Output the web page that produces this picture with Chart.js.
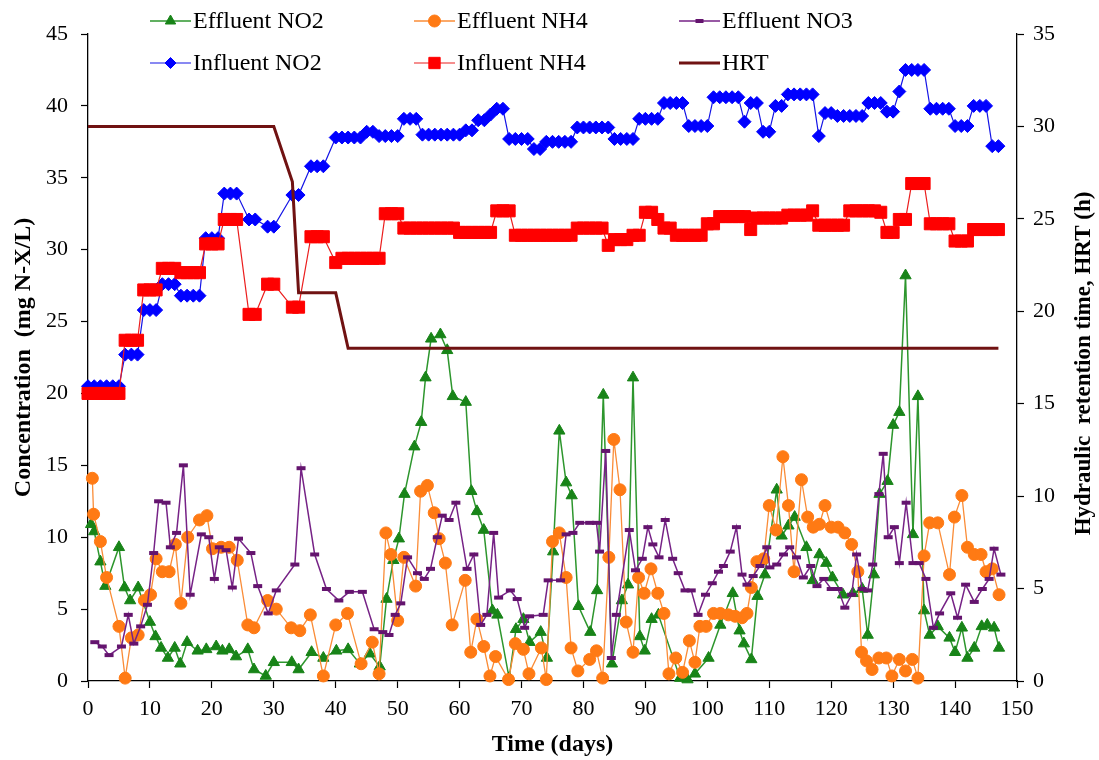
<!DOCTYPE html>
<html>
<head>
<meta charset="utf-8">
<title>Nitrogen species and HRT over time</title>
<script src="https://cdn.jsdelivr.net/npm/chart.js@4.4.1/dist/chart.umd.min.js"></script>
<style>
  html, body { margin: 0; padding: 0; background: #ffffff; }
  #wrap { width: 1099px; height: 760px; }
</style>
</head>
<body>
<div id="wrap"><canvas id="chart" width="1099" height="760"></canvas></div>
<script>
// ---- Effluent samples (day, mg N/L) ----
const effNO2Days = [0.5,1.0,2.0,2.8,5.0,5.9,6.8,8.1,10.0,10.9,11.8,12.9,14.0,14.9,16.0,17.7,19.1,20.7,21.7,22.8,23.9,25.8,26.8,28.7,30.0,32.9,34.0,36.1,38.0,40.1,42.0,43.9,45.5,47.1,48.2,49.3,50.2,51.1,52.7,53.8,54.5,55.4,56.9,58.0,58.9,61.0,61.9,62.8,63.9,65.3,66.1,68.0,69.1,70.3,71.3,73.1,74.1,75.1,76.1,77.2,78.1,79.2,81.1,82.2,83.2,84.6,86.2,87.2,88.0,89.1,89.9,91.0,92.1,95.6,96.8,98.0,100.2,102.1,104.1,105.2,105.9,107.1,108.1,109.3,111.2,112.0,113.1,114.1,116.0,117.0,118.1,119.2,120.2,121.9,123.5,125.0,125.9,126.9,127.8,129.1,130.0,131.0,132.0,133.2,134.0,135.0,135.9,137.2,139.1,140.0,141.1,142.0,143.1,144.3,145.2,146.3,147.1];
const effNO2Vals = [10.9,10.4,8.3,6.6,9.3,6.5,5.6,6.5,4.1,3.1,2.3,1.6,2.3,1.2,2.7,2.1,2.2,2.4,2.1,2.2,1.7,2.2,0.8,0.35,1.3,1.3,0.8,2.0,1.6,2.1,2.2,1.2,1.9,1.0,5.7,8.4,9.9,13.0,16.3,18.0,21.1,23.8,24.1,23.0,19.8,19.4,13.2,11.8,10.5,4.9,4.6,0.2,3.6,4.3,2.7,3.4,1.6,9.0,17.4,13.8,12.9,5.2,3.4,6.3,19.9,1.2,5.6,6.7,21.1,3.1,2.1,4.3,4.6,0.2,0.1,0.5,1.6,3.9,6.1,3.5,2.6,1.5,5.9,7.4,13.3,10.1,10.8,11.4,9.3,7.0,8.8,8.2,7.2,6.0,6.1,6.4,3.2,7.4,13.0,13.9,17.8,18.7,28.2,10.2,19.8,4.9,3.2,3.8,3.0,2.0,3.7,1.6,2.3,3.8,3.9,3.7,2.3];

const effNH4Days = [0.7,0.9,2.0,3.0,5.0,6.0,7.0,8.1,9.1,10.1,11.0,12.0,13.1,14.1,15.0,16.1,18.0,19.2,20.1,21.5,22.8,24.1,25.8,26.8,29.0,30.4,32.8,34.2,35.9,38.0,40.0,41.9,44.1,45.9,47.0,48.1,48.9,50.0,51.0,52.9,53.7,54.8,55.9,56.7,57.7,58.8,60.9,61.8,62.8,63.9,64.9,65.8,67.9,69.0,70.3,71.2,73.2,74.0,75.0,76.1,77.2,78.0,79.1,81.0,82.1,83.1,84.1,84.9,85.9,86.9,88.0,88.9,89.8,90.9,92.0,93.0,93.8,94.9,96.0,97.1,98.0,98.8,99.8,101.0,102.1,103.4,104.5,105.6,106.4,107.1,108.0,109.1,110.0,111.1,112.2,113.1,114.0,115.2,116.2,117.1,118.1,119.0,120.0,121.1,122.2,123.3,124.3,124.9,125.7,126.6,127.7,128.9,129.8,131.0,132.0,133.1,134.0,135.0,135.9,137.2,139.1,139.9,141.1,142.0,143.1,144.2,145.0,146.0,147.1];
const effNH4Vals = [14.1,11.6,9.7,7.2,3.8,0.2,3.0,3.2,5.6,6.0,8.5,7.6,7.6,9.5,5.4,10.0,11.2,11.5,9.2,9.3,9.3,8.4,3.9,3.7,5.6,5.0,3.7,3.5,4.6,0.35,3.9,4.7,1.2,2.7,0.5,10.3,8.8,4.2,8.6,6.6,13.2,13.6,11.7,9.9,8.2,3.9,7.0,2.0,4.3,2.4,0.35,1.7,0.1,2.6,2.2,0.5,2.3,0.1,9.7,10.3,7.2,2.3,0.7,1.5,2.1,0.2,8.6,16.8,13.3,4.1,2.0,7.2,6.1,7.8,6.1,4.7,0.5,1.6,0.6,2.8,1.3,3.8,3.8,4.7,4.7,4.6,4.5,4.4,4.7,6.5,8.3,8.5,12.2,10.5,15.6,12.2,7.6,14.0,11.4,10.7,10.9,12.2,10.7,10.7,10.3,9.5,7.6,2.0,1.4,0.8,1.6,1.6,0.35,1.5,0.7,1.5,0.2,8.7,11.0,11.0,7.4,11.4,12.9,9.3,8.8,8.8,7.6,7.8,6.0];

const effNO3Days = [1.1,2.3,3.4,5.4,6.5,7.4,8.5,9.6,10.6,11.4,12.6,13.3,14.3,15.4,16.5,18.3,19.5,20.4,21.2,22.3,23.3,24.3,26.3,27.4,29.1,30.4,33.4,34.4,36.6,38.5,40.5,42.2,44.3,46.2,47.6,48.6,49.6,50.5,51.6,53.2,54.3,55.3,56.4,57.2,58.3,59.4,61.2,62.3,63.4,64.4,65.5,66.3,68.2,69.3,70.5,71.3,73.5,74.3,76.3,77.2,78.3,79.4,81.0,82.1,82.6,83.6,84.5,85.3,87.4,88.4,89.5,90.4,91.2,92.2,93.2,94.4,95.3,96.4,97.4,98.5,99.7,100.8,101.8,102.6,103.7,104.7,105.6,106.4,107.4,108.5,109.6,110.1,111.2,112.3,113.3,114.4,115.5,116.7,117.7,118.8,120.0,121.1,122.2,123.3,124.1,125.0,125.9,126.7,127.7,128.4,129.2,130.2,131.0,132.1,133.2,134.2,135.3,136.5,137.5,139.3,140.4,141.7,143.1,144.4,145.5,146.3,147.4];
const effNO3Vals = [2.7,2.4,1.8,2.4,4.6,2.6,3.8,5.3,8.9,12.5,12.4,9.3,10.3,15.0,6.0,10.2,10.0,7.1,9.3,9.1,6.5,9.9,8.9,6.6,4.7,6.3,8.1,14.8,8.8,6.4,5.6,6.2,6.2,3.6,3.4,3.2,4.6,5.4,8.6,7.5,7.1,7.8,10.0,11.5,11.2,12.4,7.8,8.8,3.9,4.6,10.3,5.8,6.3,5.7,3.7,4.5,4.6,7.0,7.0,10.2,10.3,11.0,11.0,11.0,9.0,16.0,1.6,4.6,10.5,7.7,8.5,10.7,9.5,8.6,11.2,8.5,7.5,6.3,6.3,4.6,6.0,6.8,7.6,8.0,9.0,10.7,7.4,6.7,7.3,8.0,9.3,7.9,8.1,8.8,9.3,8.6,7.2,8.0,6.6,7.1,6.4,6.4,5.1,6.0,8.8,6.4,6.3,8.1,13.0,15.8,10.0,10.7,8.2,12.4,8.2,8.2,7.1,3.7,4.7,6.1,4.4,6.7,5.5,6.4,7.1,9.2,7.4];

// ---- Influent samples (shared sampling days) ----
const infDays = [0,1,2,3,4,5,6,7,8,9,10,11,12,13,14,15,16,17,18,19,20,21,22,23,24,
  26,27,29,30,33,34,36,37,38,
  40,41,42,43,44,45,46,47,48,49,50,51,52,53,54,55,56,57,58,59,60,61,62,63,64,65,66,67,68,69,
  70,71,72,73,74,75,76,77,78,79,80,81,82,83,84,85,86,87,88,89,90,91,92,93,94,95,96,97,98,99,
  100,101,102,103,104,105,106,107,108,109,110,111,112,113,114,115,116,117,118,119,120,121,122,123,124,
  125,126,127,128,129,130,131,132,133,134,135,136,137,138,139,140,141,142,143,144,145,146,147];
const infNO2Vals = [20.5,20.5,20.5,20.5,20.5,20.5,22.7,22.7,22.7,25.8,25.8,25.8,27.6,27.6,27.6,26.8,26.8,26.8,26.8,30.8,30.8,30.8,33.9,33.9,33.9,
  32.1,32.1,31.6,31.6,33.8,33.8,35.8,35.8,35.8,
  37.8,37.8,37.8,37.8,37.8,38.2,38.2,37.9,37.9,37.9,37.9,39.1,39.1,39.1,38.0,38.0,38.0,38.0,38.0,38.0,38.0,38.3,38.3,39.0,39.0,39.4,39.8,39.8,37.7,37.7,
  37.7,37.7,37.0,37.0,37.5,37.5,37.5,37.5,37.5,38.5,38.5,38.5,38.5,38.5,38.5,37.7,37.7,37.7,37.7,39.1,39.1,39.1,39.1,40.2,40.2,40.2,40.2,38.6,38.6,38.6,
  38.6,40.6,40.6,40.6,40.6,40.6,38.9,40.2,40.2,38.2,38.2,40.0,40.0,40.8,40.8,40.8,40.8,40.8,37.9,39.5,39.5,39.3,39.3,39.3,39.3,
  39.3,40.2,40.2,40.2,39.6,39.6,41.0,42.5,42.5,42.5,42.5,39.8,39.8,39.8,39.8,38.6,38.6,38.6,40.0,40.0,40.0,37.2,37.2];
const infNH4Vals = [20.0,20.0,20.0,20.0,20.0,20.0,23.7,23.7,23.7,27.2,27.2,27.2,28.7,28.7,28.7,28.4,28.4,28.4,28.4,30.4,30.4,30.4,32.1,32.1,32.1,
  25.5,25.5,27.6,27.6,26.0,26.0,30.9,30.9,30.9,
  29.1,29.4,29.4,29.4,29.4,29.4,29.4,29.4,32.5,32.5,32.5,31.5,31.5,31.5,31.5,31.5,31.5,31.5,31.5,31.5,31.2,31.2,31.2,31.2,31.2,31.2,32.7,32.7,32.7,31.0,
  31.0,31.0,31.0,31.0,31.0,31.0,31.0,31.0,31.0,31.5,31.5,31.5,31.5,31.5,30.3,30.7,30.7,30.7,31.0,31.0,32.6,32.6,32.1,31.5,31.5,31.0,31.0,31.0,31.0,31.0,
  31.8,31.8,32.3,32.3,32.3,32.3,32.3,31.4,32.2,32.2,32.2,32.2,32.2,32.4,32.4,32.4,32.4,32.7,31.7,31.7,31.7,31.7,31.7,32.7,32.7,
  32.7,32.7,32.7,32.6,31.2,31.2,32.1,32.1,34.6,34.6,34.6,31.8,31.8,31.8,31.8,30.6,30.6,30.6,31.4,31.4,31.4,31.4,31.4];

// ---- Hydraulic retention time (h) ----
const hrtDays = [0, 30, 33, 34, 40, 42, 147];
const hrtVals = [30, 30, 27, 21, 21, 18, 18];

// ---- Axis ranges and ticks ----
const dayTicks = [0, 150, 10];      // min, max, step
const concTicks = [0, 45, 5];
const hrtTicks = [0, 35, 5];

const SERIF = '"Liberation Serif", "Times New Roman", serif';

function pts(days, vals) {
  return days.map((d, i) => ({ x: d, y: vals[i] }));
}

const datasets = [
  {
    label: 'Effluent NO2', data: pts(effNO2Days, effNO2Vals), yAxisID: 'y',
    borderColor: 'rgb(45,150,45)', borderWidth: 1.5,
    pointStyle: 'triangle', pointRadius: 6.5, pointBackgroundColor: 'rgb(24,132,24)',
    pointBorderColor: 'rgb(24,132,24)', pointBorderWidth: 1, legendRadius: 6, order: 5
  },
  {
    label: 'Effluent NH4', data: pts(effNH4Days, effNH4Vals), yAxisID: 'y',
    borderColor: 'rgb(250,140,55)', borderWidth: 1.3,
    pointStyle: 'circle', pointRadius: 6, pointBackgroundColor: 'rgb(255,122,20)',
    pointBorderColor: 'rgb(255,122,20)', pointBorderWidth: 1, legendRadius: 6, order: 4
  },
  {
    label: 'Effluent NO3', data: pts(effNO3Days, effNO3Vals), yAxisID: 'y',
    borderColor: 'rgb(118,34,134)', borderWidth: 1.5,
    pointStyle: 'line', pointRadius: 4.5, pointBackgroundColor: 'rgb(100,20,110)',
    pointBorderColor: 'rgb(100,20,110)', pointBorderWidth: 4, legendRadius: 4, order: 3
  },
  {
    label: 'Influent NO2', data: pts(infDays, infNO2Vals), yAxisID: 'y',
    borderColor: 'rgb(20,20,230)', borderWidth: 1.2,
    pointStyle: 'rectRot', pointRadius: 6.5, pointBackgroundColor: 'rgb(0,0,255)',
    pointBorderColor: 'rgb(0,0,255)', pointBorderWidth: 1, legendRadius: 5.5, order: 2
  },
  {
    label: 'Influent NH4', data: pts(infDays, infNH4Vals), yAxisID: 'y',
    borderColor: 'rgb(235,30,30)', borderWidth: 1.2,
    pointStyle: 'rect', pointRadius: 8.5, pointBackgroundColor: 'rgb(255,0,0)',
    pointBorderColor: 'rgb(255,0,0)', pointBorderWidth: 1, legendRadius: 8, order: 1
  },
  {
    label: 'HRT', data: pts(hrtDays, hrtVals), yAxisID: 'y2',
    borderColor: 'rgb(112,18,18)', borderWidth: 3,
    pointStyle: false, pointRadius: 0, order: 0
  }
];
datasets.forEach(ds => { ds.fill = false; ds.tension = 0; ds.clip = false; ds.pointHoverRadius = ds.pointRadius; });

// Two-row legend drawn inside the top of the plot
const insetLegend = {
  id: 'insetLegend',
  afterDraw(chart) {
    const ctx = chart.ctx;
    const colX = [150, 414, 679];
    const rowY = [21, 63];
    chart.data.datasets.forEach((ds, i) => {
      const x0 = colX[i % 3];
      const y = rowY[Math.floor(i / 3)];
      ctx.save();
      ctx.strokeStyle = ds.borderColor;
      ctx.lineWidth = ds.borderWidth;
      ctx.beginPath();
      ctx.moveTo(x0, y);
      ctx.lineTo(x0 + 41, y);
      ctx.stroke();
      if (ds.pointStyle) {
        ctx.fillStyle = ds.pointBackgroundColor;
        ctx.strokeStyle = ds.pointBorderColor;
        ctx.lineWidth = ds.pointBorderWidth;
        Chart.helpers.drawPoint(ctx, {
          pointStyle: ds.pointStyle, radius: ds.legendRadius, rotation: 0,
          borderWidth: ds.pointBorderWidth
        }, x0 + 20.5, y);
      }
      ctx.fillStyle = '#000';
      ctx.font = '24px ' + SERIF;
      ctx.textAlign = 'left';
      ctx.textBaseline = 'middle';
      ctx.fillText(ds.label, x0 + 43, y + 1);
      ctx.restore();
    });
  }
};

// Right-hand axis title, reading bottom-to-top like the left one
const rightTitle = {
  id: 'rightTitle',
  afterDraw(chart) {
    const ctx = chart.ctx;
    const area = chart.chartArea;
    ctx.save();
    ctx.translate(1084, (area.top + area.bottom) / 2 + 6);
    ctx.rotate(-Math.PI / 2);
    ctx.fillStyle = '#000';
    ctx.font = 'bold 23px ' + SERIF;
    ctx.textAlign = 'center';
    ctx.textBaseline = 'middle';
    ctx.fillText('Hydraulic  retention time, HRT (h)', 0, 0);
    ctx.restore();
  }
};

const tickFont = { family: SERIF, size: 22 };
const axisGrid = { drawOnChartArea: false, drawTicks: true, tickLength: 7, tickColor: '#000', tickWidth: 1.2 };
const axisBorder = { display: true, color: '#000', width: 1.3 };

new Chart(document.getElementById('chart'), {
  type: 'line',
  data: { datasets },
  options: {
    responsive: false,
    devicePixelRatio: 1,
    animation: false,
    events: [],
    layout: { padding: { top: 34, left: 0, right: 0, bottom: 0 } },
    plugins: { legend: { display: false }, tooltip: { enabled: false } },
    scales: {
      x: {
        type: 'linear', position: 'bottom',
        min: dayTicks[0], max: dayTicks[1],
        ticks: { stepSize: dayTicks[2], font: tickFont, color: '#000', padding: 8, maxRotation: 0 },
        grid: axisGrid, border: axisBorder,
        title: { display: true, text: 'Time (days)', color: '#000',
                 font: { family: SERIF, size: 24, weight: 'bold' }, padding: { top: 0, bottom: 1 } },
        afterFit(s) { s.height = 79; }
      },
      y: {
        type: 'linear', position: 'left',
        min: concTicks[0], max: concTicks[1],
        ticks: { stepSize: concTicks[2], font: tickFont, color: '#000', padding: 13 },
        grid: axisGrid, border: axisBorder,
        title: { display: true, text: 'Concentration  (mg N-X/L)', color: '#000',
                 font: { family: SERIF, size: 24, weight: 'bold' }, padding: { top: 9, bottom: 0 } },
        afterFit(s) { s.width = 88; }
      },
      y2: {
        type: 'linear', position: 'right',
        min: hrtTicks[0], max: hrtTicks[1],
        ticks: { stepSize: hrtTicks[2], font: tickFont, color: '#000', padding: 9 },
        grid: axisGrid, border: axisBorder,
        afterFit(s) { s.width = 82; }
      }
    }
  },
  plugins: [insetLegend, rightTitle]
});
</script>
</body>
</html>
